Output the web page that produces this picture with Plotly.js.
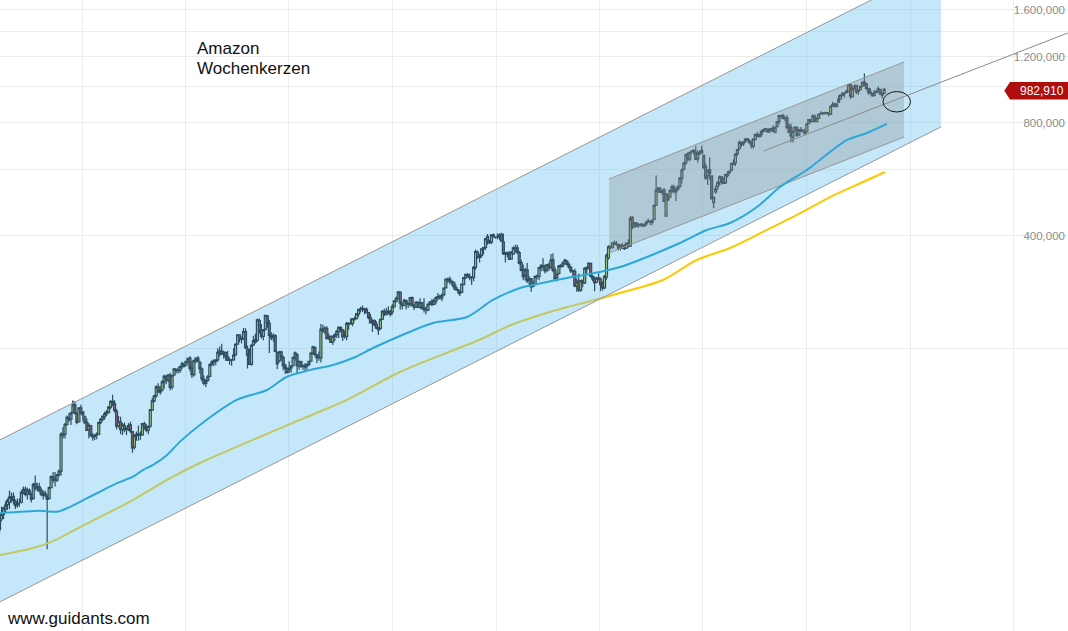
<!DOCTYPE html>
<html>
<head>
<meta charset="utf-8">
<script src="https://cdn.plot.ly/plotly-3.0.1.min.js"></script>
<style>
  html, body { margin: 0; padding: 0; background: #fff; }
  #chart { width: 1068px; height: 631px; }
</style>
</head>
<body>
<div id="chart"></div>
<script>
// ---------- DATA (Amazon, weekly candles) ----------
const firstWeek = '2009-03-16';   // Monday of the first weekly candle

const open = [
  // 2009
  66,70.5,72.5,75,77,78,80.5,81,78.5,77,78,78,83,84.5,82,84,82,80,87.5,85,86,84,81.5,82.5,81,80,85.5,91.5,90,89.5,92.5,94.5,118,118.5,126,131.5,130,135.5,142,134.5,128,139.5,
  // 2010
  136,132,127.5,122,125,117.5,117,118,118.5,127.5,130,132,135,135.5,140,145,143,136.5,125,128,122,125,122,123,125.5,120.5,109.5,117.5,118.5,118,118,126.5,123.5,121.5,124.5,137.5,145.5,150,158.5,153.5,155.5,163.5,169,165.5,170.5,158.5,170.5,176.5,175.5,175.5,179.5,182,
  // 2011
  181,185.5,189,178,171,186,189,184,177,166,162,165,169,182,184.5,185.5,187,196,197.5,193.5,195.5,191,187,186.5,187,193,206,218,212.5,213,222.5,200,193,182,205,208.5,211,238,225,216,225.5,245,234,214,216,217,196,186,196.5,190,181,177.5,
  // 2012
  176,178,180.5,190,193,180,185,180,179,180.5,182,185.5,195,202,193,190,189.5,226,223,227,214,216,209,216,218.5,223,228,225,216,216,233,233,234,240,241,248,255,256,256,255,250,242,235,238,233,227,227,240,252,247,250,252,251,
  // 2013
  259,268,272,283,265,261,269,263,264,274,262,258,266,258,266,257,254,254,263,268,263,268,275,277,273,279,291,305,307,303,301,292,288,285,283,297,310,315,311,310,310,330,362,351,355,370,373,399,388,385,403,397,
  // 2014
  397,398,404,386,358,362,357,347,358,372,372,361,340,325,315,325,306,308,294,298,313,312,330,333,332,325,336,330,346,325,310,318,334,333,343,343,336,330,322,322,294,304,287,305,300,327,332,338,312,307,301,309,
  // 2015
  307,299,291,311,350,375,373,383,380,380,371,377,370,371,383,376,448,423,433,427,426,429,426,431,436,436,435,443,483,533,535,524,531,452,512,508,531,540,524,533,541,570,603,627,663,641,671,675,668,642,668,665,
  // 2016
  656,612,578,601,578,491,524,541,556,575,569,555,584,590,599,625,626,663,683,710,704,717,726,716,711,693,722,746,736,745,760,768,770,756,768,776,756,782,808,836,837,821,825,785,778,732,763,779,744,768,759,764,
  // 2017
  757,798,815,807,833,807,823,848,851,847,851,850,843,888,899,884,908,927,948,962,964,971,1012,939,999,1007,972,982,1004,1028,1019,989,968,958,946,968,968,984,949,960
];
const high = [
  71.5,76,76,78.5,80,84,83,83,79.5,80,80,84,86,86,85.5,85,83,88,92,88,88,85.5,84,84,82,86,92,94,94,93,95.5,120,124,127,133,135,136,145.9,145,136,140,142,
  136.6,133,130.5,127,125.5,119.5,119,120,128,131,133,136,137.5,141,146,151,146,138.5,132.5,132,127,127.5,124,127,128,121,118.5,120.5,125,120.5,127,128,126,125,138.5,148,151,160,162,159.5,165,171,170.5,171.5,173,170.5,178,177.5,178.5,180,185,184,
  186,189,191.5,185.5,187,189,191.5,186,178.5,170,166,170.5,182.5,186.5,188,188,201,203,206.5,198,197,198,189.5,188,201,206,218,219,215.5,227.5,227.2,204,200.5,206,217,220,241,241,233,226,246.7,246.2,239,221.5,220,219,196.5,198,198,192,183,178.5,
  185.5,181,191,197,195,186,186,182,183.5,183,186,196,204,203,194,197,233,232,230,230,220,217,217,220,225,230,230,226,224,236,236,241,242,244,249,256,259,261,257,258,251,248,240,240,237,229,241,254,256,257,260,254,263,
  270,276,284.5,284.8,266,272,271,266,275,276,263,268,268,273,267,273,260,264,268,272,272,276,282,279,281,291,307.5,310,312,305,302,298,290,287,299,310.5,316.5,319,318,313,333,368,366,358,370,374,395,405,391,405,406,399,
  407,406,408,406,362,363,364,364,375,379,379,365,346,336,329,339,313,309,304,312.5,316,330,337,349,336,337,340,358,360,331,317,335,337,342,348,345,340,333,325,327,308,318,305,306,330,331,340,339,315,312,311,318,
  310,303,315,359,378,378,384,389,388,381,380,383,380,384,392,452,452,434,436,433,433,433,431,439,445,440,442,485,580,540,540,529,537,519,518,530,548,548,535,546,574,605,630,660,669,669,678,682,695,677,676,696,
  658,625,600,648,581,510,545,560,580,577,572,586,596,598,627,640,665,680,718,713,714,726,731,725,718,726,748,757,747,766,771,774,772,774,775,789,779,810,839,843,847,833,839,798,796,761,784,781,770,781,771,773,
  796,818,819,843,843,824,849,860,855,857,853,854,890,911,906,903,949,951,963,966,981,1013,1017,1001,1013,1010,979,1004,1032,1083,1020,993,990,962,981,980,1000,985,963,991
];
const low = [
  64.5,69.5,70.5,73.5,74.5,75,78,77,75,75.5,76,77.5,82,81,79.5,81.5,78,79.5,84,83.5,83,81,79.5,80.5,58.6,79.5,85,88,86,88.5,91.5,92,115.5,115.5,125,128,125.5,135,134,126,127.5,134,
  128.3,126.5,121,115.5,117,114,114.5,115,118,126,128.5,129.5,132.5,134.5,138.5,141,135.5,122,123.5,118.5,118,120,118,121,119.5,105.8,108,114,114,114.5,117.5,122,120,118.5,123.5,137,144,148.5,153,151,154,157,161,163,155,156,169.5,172,172,172.5,177,178.5,
  180,182.5,174.5,167.5,169,183.5,184,172,163.5,160,158.5,163.5,168.5,180,180,181,185,191,193,188.5,186,186.5,181.5,180.5,186,192,205.5,208.5,207,211.5,200,177.5,181.5,180.5,204,207,209.5,220,213,211,224,228,195,211,209.5,196,177,184,186,175.5,171.5,172,
  172.5,173,180,186,172,176,178,176,175,176,180,185,193,191,183.5,186,184,221,219,212,211,208,205,210,214,214,221,210,213,211,225,232,230,238,240,244,250,251,247,249,240,234,222,230,226,218,225,239,245,246,248,244,247,
  258,266,271,255,255,260,255,257,259,260,254,257,257,256,254,250,247,252,262,260,262,263,270,271,268,277,290,300,297,295,288,287,281,277,282,296,307,310,305,296,303,325,348,340,350,357,367,379,380,381,398,393,
  392,391,387,356,340,351,345,346,357,362,360,336,322,305,305,300,296,284,292,296,307,305,322,323,318,320,323,327,320,306,303,316,329,330,336,334,327,319,313,292,284,284,284,292,298,318,326,310,303,285,300,305,
  285,286,289,306,346,369,370,378,377,366,366,370,367,370,373,375,417,421,422,420,424,422,422,425,434,428,427,442,482,521,521,515,493,452,496,504,520,519,496,528,538,553,599,618,634,633,664,656,640,628,657,662,
  604,565,547,565,501,474,518,531,546,548,551,550,573,584,596,617,614,654,678,690,695,708,715,705,684,683,720,733,732,733,755,764,755,755,762,759,751,781,794,827,817,808,776,755,711,710,760,735,740,757,757,748,
  756,795,804,805,803,803,823,843,839,843,843,833,841,887,884,883,905,926,942,935,962,967,927,936,983,954,951,977,996,1002,982,951,955,940,942,960,965,955,931,954
];
const close = [
  70,72.5,75.5,76.8,78.9,80.6,80.9,79,76.5,77.5,78,83,84.5,82,84,82.5,79.5,87,85,85.8,84,82,82.5,81.5,79.5,85.5,91.5,89.5,89.5,92.5,94.5,118.5,118.8,126,131.5,129.5,135,142,134.5,127.5,139.5,134.5,
  133.5,127.1,121.4,125.4,117.5,116.5,117.5,118.5,127.5,130,132.5,134.5,135.8,140,145,143.5,137,124.5,128,122,125.5,122,123,125,121,109,117.5,118.5,118.9,117.9,126.5,123.5,121.5,124.5,138,145.5,150,158.5,153.5,155.5,163.5,169,165.2,170.5,158,170,177,175.5,175,179.5,182.5,180,
  185.5,188.8,177.5,171,186.5,189,186,177,166.5,162,164.5,168.5,182,184.5,186,186.5,195.8,197.5,193.5,196,190.5,186.5,186.5,186.5,192.5,206,218,212.5,213,222.5,201.5,192.5,182,204.5,210.5,211.5,239,223,216.2,224.7,246,234.5,217.3,216.4,217.3,197,182.4,196.2,190.5,180.5,177.5,173.1,
  177.6,180,190,195.4,180.5,185.5,179.9,180,180.5,182,185.5,195,202.5,193.5,189.5,189.9,226,223,227.5,213,216,208.2,216.5,218.4,223,228.4,225,215.5,218.5,234,233,234,241,241,248.5,255,256,256.5,254.3,250,242.5,234.8,238,232,227.3,225,240,252.1,247.7,251,252.5,247.2,259.2,
  268.9,272.7,284,265,261.9,269.5,265,264.3,274,261.8,258.5,266.5,258,266,257,254.8,253.8,263.3,266.9,262.5,269.2,274,276,273.4,277.7,290.6,306.9,307,303,301,293,287.5,287,280.9,298,310,316,312.5,310,310.9,330,363.4,350.5,354,369.7,372.3,393.6,386,384,402.9,398.1,396.4,
  397,402,387.6,358.7,361,357.4,346.3,362.1,372.1,370.6,360.6,338.5,323.7,311.7,324.9,303.8,308,292.7,297.7,312.2,312.6,329.7,333.6,331,323.1,335,329,345.1,324,307.1,316.8,333.2,331.6,339,345,336,331,323,323,294.5,302,287.1,303.6,299.9,327.8,330,338.6,312.5,307.6,299.9,309,308.5,
  296.9,290.7,312.4,354.5,374.3,372.9,383.7,380.2,380.1,370.6,378,370.6,370.3,382.7,375.6,445.1,423,433.7,426,427.6,429.2,427,429.9,434.9,438.1,437.7,440.4,482.2,529.4,536.2,522.6,527.5,494.5,518,499,529.4,540.3,525.5,532.5,539.8,570.8,599,625.9,659.4,642.4,668.5,673.3,672.6,640.2,664.1,662.8,675.9,
  607.1,570.2,596.4,587,502.1,507.1,534.1,555.2,575.1,569,552,583,579,594.6,625,620.5,659.6,679.8,709.9,702.8,712.2,725.5,717.9,707.9,698,725.7,745.8,735.4,744.9,758.8,766.6,772.6,757.3,769.5,772.4,760.1,778.5,805.8,837.3,834.1,823,822.6,776.3,755.6,739,760.2,780.4,740.3,768.7,760.2,760.6,749.9,
  796,817.1,808.3,835.8,810.2,823.6,844.1,845.2,849.1,852.5,852.3,845.6,886.5,894.9,884.7,898.5,925,949,961.4,959.8,971.5,1011.3,942.9,987.7,1003.7,968,978.8,1001.8,1025.7,1020,987.6,968,958.5,945.3,965.9,965.9,986.8,955.1,961.4,982.91
];

// moving averages (blue and yellow)
const blueDates = ['2009-03-17','2009-08-06','2009-10-05','2009-11-09','2010-01-19','2010-03-06','2010-05-05','2010-06-30','2010-08-04','2010-09-09','2010-10-28','2010-12-13','2011-02-21','2011-07-01','2011-10-16','2011-12-25','2012-03-16','2012-06-05','2012-08-14','2012-10-24','2013-01-27','2013-05-24','2013-09-21','2013-12-21','2014-03-27','2014-06-30','2014-09-09','2015-01-03','2015-03-15','2015-06-18','2015-10-12','2016-01-15','2016-04-06','2016-07-10','2016-09-29','2017-01-02','2017-02-17','2017-05-24','2017-08-02','2017-10-12'];
const blueValues = [73.0,74.1,73.7,75.3,80.1,83.4,87.8,91.4,95.2,98.2,104.4,113.3,125.5,146.3,155.5,168.7,175.8,181.3,189.2,201.2,216.6,234.6,243.4,270.2,290.8,301.7,309.2,320.7,330.6,351.7,383.2,415.0,433.2,477.9,540.2,599.6,637.6,720.8,752.5,795.2];
const yellowDates = ['2009-03-17','2009-07-12','2009-09-03','2009-10-15','2009-12-25','2010-03-06','2010-06-30','2010-10-28','2011-02-21','2011-08-17','2012-02-08','2012-07-24','2013-01-27','2013-11-06','2014-02-19','2014-06-05','2014-09-09','2014-11-18','2015-03-15','2015-08-13','2015-12-10','2016-04-06','2016-07-31','2016-11-28','2017-03-25','2017-07-19','2017-10-05'];
const yellowValues = [56.5,59.0,60.8,62.8,67.1,71.4,79.2,89.6,99.4,113.7,129.4,146.3,173.7,212.0,231.0,246.4,258.8,266.9,282.0,305.4,345.2,371.6,410.0,455.0,508.0,557.0,592.3];

// trend channels and trend line (end points, price values)
const bandDates  = ['2009-03-17', '2018-04-20'];
const bandUpper  = [114.5, 2111];
const bandLower  = [42.4, 780.5];
const chanDates  = ['2015-02-04', '2017-12-11'];
const chanUpper  = [567.5, 1163];
const chanLower  = [360.3, 734];
const trendDates = ['2016-08-03', '2019-07-12'];
const trendValues = [673.8, 1389];

// axis ticks
const yTickVals  = [200, 400, 600, 800, 1000, 1200, 1400, 1600];
const yTickText  = ['', '400,000', '', '800,000', '', '1.200,000', '', '1.600,000'];
const lastPriceText = '982,910';
const titleLines = ['Amazon', 'Wochenkerzen'];
const sourceText = 'www.guidants.com';

// ---------- BUILD ----------
function weekDates(start, n) {
  const t0 = Date.parse(start + 'T00:00:00Z');
  const out = [];
  for (let i = 0; i < n; i++) out.push(new Date(t0 + i * 7 * 86400000).toISOString().slice(0, 10));
  return out;
}
const dates = weekDates(firstWeek, close.length);

const W = 1068, H = 631;
const fx = px => px / W;
const fy = py => 1 - py / H;
const FONT = 'Liberation Sans, Arial, sans-serif';
const GRAYLINE = '#979797';

const traces = [
  // yellow average first, so the translucent channel tints it
  { type: 'scatter', mode: 'lines', hoverinfo: 'skip', x: yellowDates, y: yellowValues,
    line: { color: '#ffc800', width: 2, shape: 'spline', smoothing: 0.8 } },
  { // big blue channel fill
    type: 'scatter', mode: 'lines', hoverinfo: 'skip',
    x: [bandDates[0], bandDates[1], bandDates[1], bandDates[0]],
    y: [bandUpper[0], bandUpper[1], bandLower[1], bandLower[0]],
    fill: 'toself', fillcolor: 'rgba(108,197,242,0.4)', line: { width: 0, color: 'rgba(0,0,0,0)' }
  },
  { type: 'scatter', mode: 'lines', hoverinfo: 'skip', x: bandDates, y: bandUpper, line: { color: GRAYLINE, width: 1 } },
  { type: 'scatter', mode: 'lines', hoverinfo: 'skip', x: bandDates, y: bandLower, line: { color: GRAYLINE, width: 1 } },
  { // small grey channel fill
    type: 'scatter', mode: 'lines', hoverinfo: 'skip',
    x: [chanDates[0], chanDates[1], chanDates[1], chanDates[0]],
    y: [chanUpper[0], chanUpper[1], chanLower[1], chanLower[0]],
    fill: 'toself', fillcolor: 'rgba(135,138,140,0.32)', line: { width: 0, color: 'rgba(0,0,0,0)' }
  },
  { type: 'scatter', mode: 'lines', hoverinfo: 'skip', x: chanDates, y: chanUpper, line: { color: GRAYLINE, width: 1 } },
  { type: 'scatter', mode: 'lines', hoverinfo: 'skip', x: chanDates, y: chanLower, line: { color: GRAYLINE, width: 1 } },
  { type: 'scatter', mode: 'lines', hoverinfo: 'skip', x: blueDates, y: blueValues,
    line: { color: '#2ea6d8', width: 2, shape: 'spline', smoothing: 0.8 } },
  {
    type: 'candlestick', x: dates, open: open, high: high, low: low, close: close, hoverinfo: 'skip',
    whiskerwidth: 0,
    increasing: { line: { color: '#000000', width: 1.2 }, fillcolor: '#dbe83a' },
    decreasing: { line: { color: '#000000', width: 1.2 }, fillcolor: '#b81c2c' }
  },
  { type: 'scatter', mode: 'lines', hoverinfo: 'skip', x: trendDates, y: trendValues, line: { color: '#8a8a8a', width: 1 } }
];

const layout = {
  width: W, height: H,
  margin: { l: 0, r: 0, t: 0, b: 0 },
  paper_bgcolor: '#ffffff', plot_bgcolor: '#ffffff',
  showlegend: false,
  boxgap: 0, boxgroupgap: 0,
  xaxis: {
    type: 'date', range: ['2009-03-17 14:00', '2019-07-12 14:00'],
    showticklabels: false, ticks: '', showline: false, zeroline: false,
    showgrid: true, gridcolor: '#ececec', gridwidth: 1,
    tick0: '2010-01-01', dtick: 'M12',
    rangeslider: { visible: false }, fixedrange: true
  },
  yaxis: {
    type: 'log', side: 'right', range: [1.5498, 3.2307],
    tickmode: 'array', tickvals: yTickVals, ticktext: yTickText,
    ticklabelposition: 'inside', ticks: '', showline: false, zeroline: false,
    showgrid: true, gridcolor: '#ececec', gridwidth: 1,
    tickfont: { family: FONT, size: 11.5, color: '#8c8c8c' },
    automargin: false, fixedrange: true
  },
  shapes: [
    { // last price tag
      type: 'path', xref: 'paper', yref: 'paper', layer: 'above',
      path: `M ${fx(1004.3)} ${fy(90.7)} L ${fx(1010)} ${fy(82)} L ${fx(1068)} ${fy(82)} L ${fx(1068)} ${fy(99.5)} L ${fx(1010)} ${fy(99.5)} Z`,
      fillcolor: '#b00d0d', line: { width: 0 }
    },
    { // ellipse marker
      type: 'circle', xref: 'paper', yref: 'paper', layer: 'above',
      x0: fx(883), x1: fx(910.5), y0: fy(112), y1: fy(91.5),
      line: { color: '#1a1a1a', width: 1 }, fillcolor: 'rgba(0,0,0,0)'
    }
  ],
  annotations: [
    { xref: 'paper', yref: 'paper', x: fx(194.5), y: fy(48), xanchor: 'left', yanchor: 'middle', showarrow: false,
      text: titleLines[0], font: { family: FONT, size: 17, color: '#111' } },
    { xref: 'paper', yref: 'paper', x: fx(194.5), y: fy(68.5), xanchor: 'left', yanchor: 'middle', showarrow: false,
      text: titleLines[1], font: { family: FONT, size: 17, color: '#111' } },
    { xref: 'paper', yref: 'paper', x: fx(5), y: fy(618.5), xanchor: 'left', yanchor: 'middle', showarrow: false,
      text: sourceText, font: { family: FONT, size: 17, color: '#111' } },
    { xref: 'paper', yref: 'paper', x: fx(1066), y: fy(90.7), xanchor: 'right', yanchor: 'middle', showarrow: false,
      text: lastPriceText, font: { family: FONT, size: 12, color: '#ffffff' } }
  ]
};

Plotly.newPlot('chart', traces, layout, { staticPlot: true, displayModeBar: false });
</script>
</body>
</html>
